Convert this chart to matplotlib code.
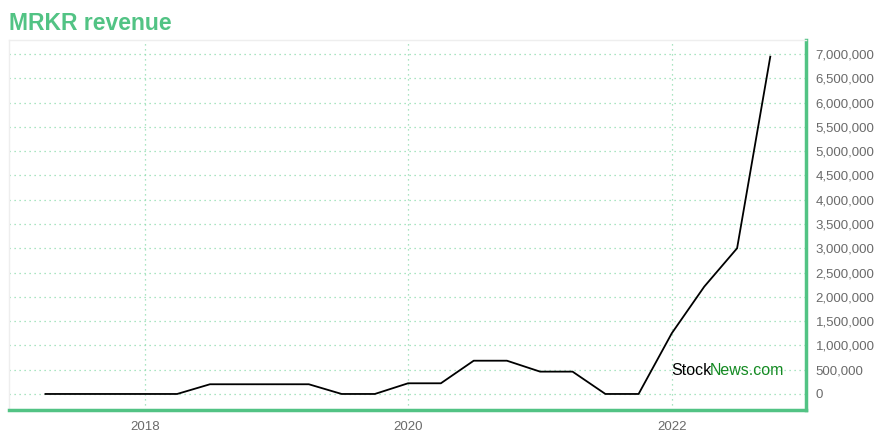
import matplotlib
matplotlib.use("Agg")
import matplotlib.pyplot as plt
import matplotlib.dates as mdates
from matplotlib.ticker import FuncFormatter, MultipleLocator
import numpy as np
import pandas as pd

plt.rcParams['font.family'] = ['Liberation Sans', 'DejaVu Sans']

# quarterly revenue
quarters = ['2017-03-31', '2017-06-30', '2017-09-30', '2017-12-31',
            '2018-03-31', '2018-06-30', '2018-09-30', '2018-12-31',
            '2019-03-31', '2019-06-30', '2019-09-30', '2019-12-31',
            '2020-03-31', '2020-06-30', '2020-09-30', '2020-12-31',
            '2021-03-31', '2021-06-30', '2021-09-30', '2021-12-31',
            '2022-03-31', '2022-06-30', '2022-09-30']
revenue = [0, 0, 0, 0,
           0, 200000, 200000, 200000,
           200000, 0, 0, 220000,
           220000, 685000, 685000, 460000,
           460000, 0, 0, 1250000,
           2210000, 3000000, 6945000]
year_ticks = ['2018-01-01', '2020-01-01', '2022-01-01']

green = '#52c384'
grid_green = '#8fdcae'

dates = pd.to_datetime(quarters)

fig = plt.figure(figsize=(8.8, 4.4), dpi=100)
ax = fig.add_axes([9 / 880, 30 / 440, 797 / 880, 370 / 440])

ax.plot(dates, revenue, color='black', linewidth=1.3)

ax.set_xlim(pd.Timestamp('2016-12-20'), pd.Timestamp('2023-01-07'))
ax.set_ylim(-330000, 7288000)

ax.yaxis.tick_right()
ax.yaxis.set_major_locator(MultipleLocator(500000))
ax.yaxis.set_major_formatter(FuncFormatter(lambda v, p: f'{int(v):,}'))
ax.set_xticks(pd.to_datetime(year_ticks))
ax.xaxis.set_major_formatter(mdates.DateFormatter('%Y'))

ax.tick_params(axis='both', length=0, labelsize=9.5, labelcolor='#6a6a6a')
ax.tick_params(axis='y', pad=7)
ax.tick_params(axis='x', pad=8)

ax.grid(True, color=grid_green, linestyle=(0, (1, 3)), linewidth=0.9)

for side in ['top', 'left']:
    ax.spines[side].set_color('#eeeeee')
    ax.spines[side].set_linewidth(1)
for side in ['bottom', 'right']:
    ax.spines[side].set_color(green)
    ax.spines[side].set_linewidth(2.5)

fig.text(9 / 880, 1 - 30 / 440, 'MRKR revenue', color=green, fontsize=16.5,
         fontweight='bold', ha='left', va='baseline')

# watermark
t1 = ax.text(0.831, 0.095, 'Stock', transform=ax.transAxes, color='black',
             fontsize=11.5, ha='left', va='baseline')
fig.canvas.draw()
bb = t1.get_window_extent().transformed(ax.transAxes.inverted())
ax.text(bb.x1 - 0.002, 0.095, 'News.com', transform=ax.transAxes, color='#148a22',
        fontsize=11.5, ha='left', va='baseline')

fig.savefig('out.png', dpi=100)
